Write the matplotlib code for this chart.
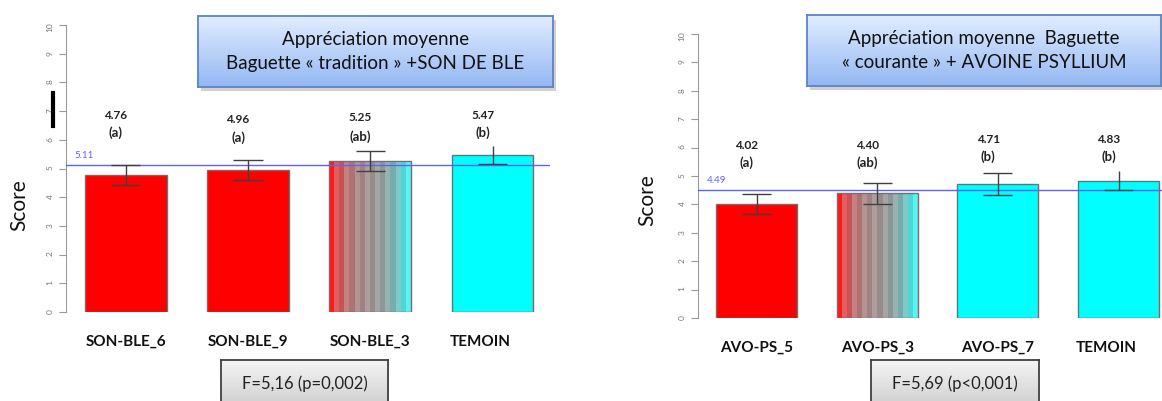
import numpy as np
import matplotlib
matplotlib.use("Agg")
import matplotlib.pyplot as plt
from matplotlib.patches import Rectangle
from matplotlib.lines import Line2D

plt.rcParams['font.family'] = ['Lato', 'DejaVu Sans']

# data
left_cats = ['SON-BLE_6', 'SON-BLE_9', 'SON-BLE_3', 'TEMOIN']
left_means = [4.76, 4.96, 5.25, 5.47]
left_err = [0.35, 0.35, 0.35, 0.33]
left_groups = ['(a)', '(a)', '(ab)', '(b)']
left_grand = 5.11
left_title = 'Appréciation moyenne\nBaguette « tradition » +SON DE BLE'
left_stat = 'F=5,16 (p=0,002)'

right_cats = ['AVO-PS_5', 'AVO-PS_3', 'AVO-PS_7', 'TEMOIN']
right_means = [4.02, 4.40, 4.71, 4.83]
right_err = [0.36, 0.37, 0.38, 0.34]
right_groups = ['(a)', '(ab)', '(b)', '(b)']
right_grand = 4.49
right_title = 'Appréciation moyenne  Baguette\n« courante » + AVOINE PSYLLIUM'
right_stat = 'F=5,69 (p<0,001)'

# fill style per bar
left_fill = ['red', 'red', 'mix', 'cyan']
right_fill = ['red', 'mix', 'cyan', 'cyan']

W, H = 1162, 401
fig = plt.figure(figsize=(W / 100, H / 100), dpi=100)


def fbox(x0, y0, x1, y1):
    # pixel box (top-left origin) -> figure fraction rect
    return [x0 / W, 1 - y1 / H, (x1 - x0) / W, (y1 - y0) / H]


def stripe_image():
    n = 16
    t = np.linspace(0, 1, n)
    red = np.array([1.0, 0.1, 0.1])
    cyan = np.array([0.2, 0.95, 0.95])
    gray = np.array([0.6, 0.55, 0.55])
    cols = []
    for i, ti in enumerate(t):
        c = red * (1 - ti) + cyan * ti
        g = 4 * ti * (1 - ti) * 0.7
        c = c * (1 - g) + gray * g
        if i % 2 == 1:
            c = c + (1 - c) * 0.18
        cols.append(c)
    return np.array(cols)[None, :, :]


def draw_panel(ax, cats, means, err, groups, grand, fills, lab_y, grp_y, top_cap, xlim):
    x = np.arange(len(cats))
    w = 0.67
    for i in range(len(cats)):
        if fills[i] == 'mix':
            ax.imshow(stripe_image(), extent=[x[i] - w / 2, x[i] + w / 2, 0, means[i]],
                      aspect='auto', interpolation='nearest', zorder=2)
            ax.add_patch(Rectangle((x[i] - w / 2, 0), w, means[i], fill=False,
                                   ec='#707070', lw=1, zorder=3))
        else:
            col = '#ff0000' if fills[i] == 'red' else '#00ffff'
            ax.bar(x[i], means[i], w, color=col, edgecolor='#707070', lw=1, zorder=2)

    ax.axhline(grand, color='#6060ff', lw=1, zorder=4)
    ax.text(xlim[0] + 0.07, grand + 0.18, f'{grand:.2f}', color='#6060ff', fontsize=7,
            ha='left', va='bottom')

    cw = 0.12
    for i in range(len(cats)):
        lo, hi = means[i] - err[i], means[i] + err[i]
        ax.vlines(x[i], lo, hi, color='#404040', lw=1, zorder=5)
        ax.hlines(lo, x[i] - cw, x[i] + cw, color='#404040', lw=1, zorder=5)
        if top_cap[i]:
            ax.hlines(hi, x[i] - cw, x[i] + cw, color='#404040', lw=1, zorder=5)
        ax.text(x[i] - 0.08, lab_y[i], f'{means[i]:.2f}', ha='center', va='center',
                fontsize=8.5, fontweight='bold', color='#222222')
        ax.text(x[i] - 0.08, grp_y[i], groups[i], ha='center', va='center',
                fontsize=9.5, fontweight='bold', color='#222222')
        ax.text(x[i] - (0.1 if cats[i] == 'TEMOIN' else 0), -1.05, cats[i],
                ha='center', va='center', fontsize=11, fontweight='bold', color='#111111')

    ax.set_xlim(*xlim)
    ax.set_ylim(0, 10)
    ax.set_yticks(range(0, 11))
    ax.tick_params(axis='y', labelsize=6, labelcolor='#777777', color='#999999',
                   length=5, labelrotation=90, pad=4)
    ax.set_xticks([])
    for s in ['top', 'right', 'bottom']:
        ax.spines[s].set_visible(False)
    ax.spines['left'].set_color('#999999')
    ax.spines['left'].set_bounds(0, 10)
    ax.patch.set_alpha(0)


def title_box(rect, text):
    sh = Rectangle((rect[0] + 3 / W, rect[1] - 4 / H), rect[2], rect[3],
                   transform=fig.transFigure, color='#000000', alpha=0.18, zorder=2, lw=0)
    fig.add_artist(sh)
    bx = fig.add_axes(rect, zorder=3)
    grad = np.linspace(0, 1, 64)[:, None, None]
    top = np.array([0.88, 0.93, 1.0])
    bot = np.array([0.58, 0.72, 0.95])
    bx.imshow(top * (1 - grad) + bot * grad, extent=[0, 1, 0, 1], aspect='auto')
    bx.set_xticks([])
    bx.set_yticks([])
    for s in bx.spines.values():
        s.set_color('#5b84c8')
        s.set_linewidth(1.3)
    bx.text(0.5, 0.5, text, ha='center', va='center', fontsize=13.5,
            color='#111111', linespacing=1.45, transform=bx.transAxes)


def stat_box(rect, text):
    bx = fig.add_axes(rect, zorder=3)
    grad = np.linspace(0, 1, 64)[:, None, None]
    top = np.array([0.96, 0.96, 0.96])
    bot = np.array([0.80, 0.80, 0.80])
    bx.imshow(top * (1 - grad) + bot * grad, extent=[0, 1, 0, 1], aspect='auto')
    bx.set_xticks([])
    bx.set_yticks([])
    for s in bx.spines.values():
        s.set_color('#404040')
        s.set_linewidth(1.3)
    bx.text(0.5, 0.52, text, ha='center', va='center', fontsize=12,
            color='#222222', transform=bx.transAxes)


# left panel
axl = fig.add_axes(fbox(66, 25, 550, 312), zorder=0)
draw_panel(axl, left_cats, left_means, left_err, left_groups, left_grand, left_fill,
           lab_y=[6.83, 6.72, 6.76, 6.83], grp_y=[6.24, 6.06, 6.1, 6.24],
           top_cap=[True, True, True, False], xlim=(-0.487, 3.47))
fig.text(19 / W, 1 - 205 / H, 'Score', rotation=90, ha='center', va='center',
         fontsize=15, color='#111111')

# right panel
axr = fig.add_axes(fbox(698, 34, 1162, 318), zorder=0)
draw_panel(axr, right_cats, right_means, right_err, right_groups, right_grand, right_fill,
           lab_y=[6.06, 6.06, 6.27, 6.27], grp_y=[5.46, 5.46, 5.67, 5.67],
           top_cap=[True, True, True, False], xlim=(-0.485, 3.36))
fig.text(647 / W, 1 - 200 / H, 'Score', rotation=90, ha='center', va='center',
         fontsize=15, color='#111111')

title_box(fbox(198, 16, 553, 87), left_title)
title_box(fbox(807, 15, 1161, 86), right_title)
stat_box(fbox(221, 360, 388, 410), left_stat)
stat_box(fbox(871, 360, 1039, 410), right_stat)

# stray black mark next to the left axis
fig.add_artist(Line2D([53 / W, 53 / W], [1 - 93 / H, 1 - 126 / H], color='black',
                      lw=3, transform=fig.transFigure, zorder=5))

fig.savefig('out.png', dpi=100)
